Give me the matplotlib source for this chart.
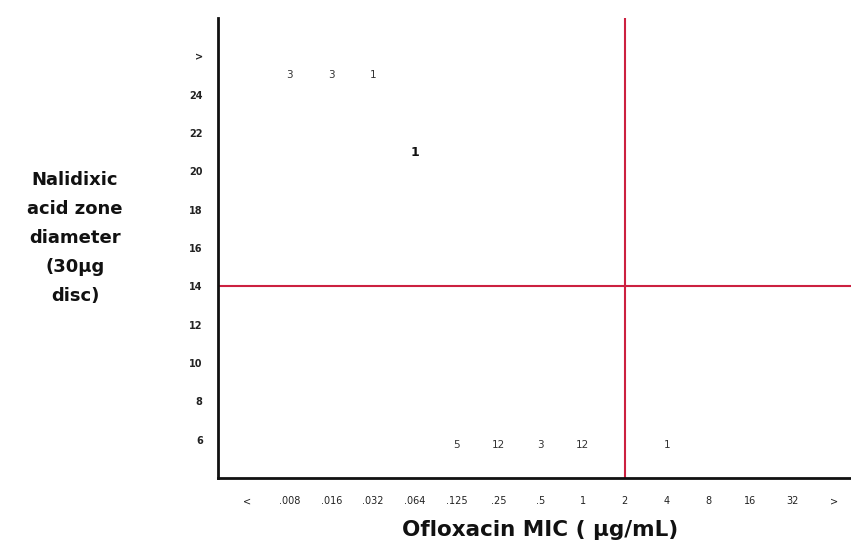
import matplotlib
matplotlib.use("Agg")
import matplotlib.pyplot as plt

# ---- data ----
mic_labels = ["<", ".008", ".016", ".032", ".064", ".125", ".25", ".5", "1", "2", "4", "8", "16", "32", ">"]
zone_ticks = [6, 8, 10, 12, 14, 16, 18, 20, 22, 24, 26]
zone_tick_labels = ["6", "8", "10", "12", "14", "16", "18", "20", "22", "24", ">"]

# counts: (MIC category, zone diameter, count)
top_mic = [".008", ".016", ".032"]
top_zone = [25, 25, 25]
top_count = [3, 3, 1]

mid_mic = [".064"]
mid_zone = [21]
mid_count = [1]

low_mic = [".125", ".25", ".5", "1", "4"]
low_zone = [6, 6, 6, 6, 6]
low_count = [5, 12, 3, 12, 1]

mic_breakpoint = "2"
zone_breakpoint = 14

# ---- figure ----
fig = plt.figure(figsize=(8.51, 5.57), dpi=100)
ax = fig.add_axes([218 / 851, 1 - 478 / 557, 1 - 218 / 851 + 0.01, (478 - 18) / 557])

pos = {lab: i for i, lab in enumerate(mic_labels)}

ax.set_xlim(-0.7, 14.6)
ax.set_ylim(4.0, 28.0)

for s in ["top", "right"]:
    ax.spines[s].set_visible(False)
for s in ["left", "bottom"]:
    ax.spines[s].set_linewidth(2)
    ax.spines[s].set_color("#111111")

ax.set_xticks(range(len(mic_labels)))
ax.set_xticklabels(mic_labels, fontsize=7, color="#222222")
ax.set_yticks(zone_ticks)
ax.set_yticklabels(zone_tick_labels, fontsize=7, fontweight="bold", color="#222222")
ax.tick_params(axis="x", length=0, pad=13)
ax.tick_params(axis="y", length=0, pad=11)

red = "#cc2040"
ax.axvline(pos[mic_breakpoint], color=red, lw=1.5)
ax.axhline(zone_breakpoint, color=red, lw=1.5)

for m, z, c in zip(top_mic, top_zone, top_count):
    ax.text(pos[m], z, str(c), ha="center", va="center", fontsize=7.5, color="#333333")
for m, z, c in zip(mid_mic, mid_zone, mid_count):
    ax.text(pos[m], z, str(c), ha="center", va="center", fontsize=9, fontweight="bold", color="#111111")
for m, z, c in zip(low_mic, low_zone, low_count):
    ax.text(pos[m], z, str(c), ha="center", va="top", fontsize=7.5, color="#333333")

fig.text(540 / 851, 1 - 530 / 557, "Ofloxacin MIC ( μg/mL)", ha="center", va="center",
         fontsize=15.5, fontweight="semibold", color="#111111")
fig.text(75 / 851, 1 - 238 / 557, "Nalidixic\nacid zone\ndiameter\n(30μg\ndisc)", ha="center",
         va="center", fontsize=13, fontweight="bold", color="#111111", linespacing=1.8)

fig.savefig("out.png", dpi=100)
